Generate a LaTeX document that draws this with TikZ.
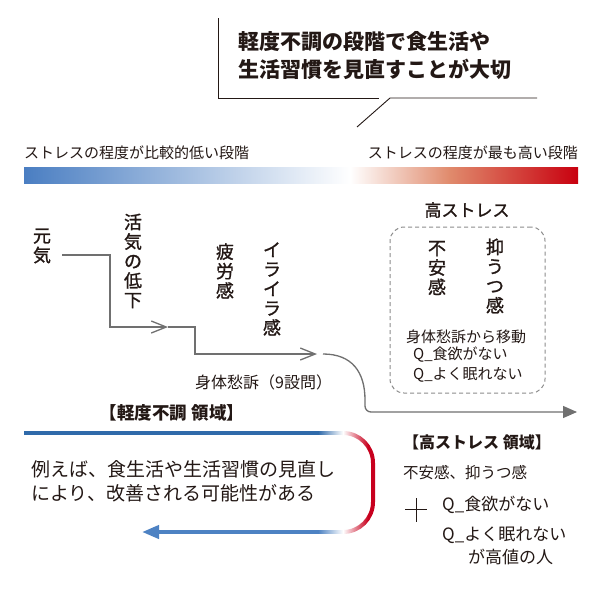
\documentclass[tikz,border=0pt]{standalone}
\usepackage{fontspec}
\setmainfont{Noto Sans CJK JP}
\newfontfamily\medfont{Noto Sans CJK JP}[FakeBold=1.2]
\usetikzlibrary{arrows.meta,fadings}
\definecolor{ink}{HTML}{231815}
\definecolor{flowgray}{HTML}{707070}
\definecolor{dashgray}{HTML}{8C8C8C}
\definecolor{bluetop}{HTML}{2F6AAA}
\definecolor{bluearr}{HTML}{4D82C3}
\definecolor{redline}{HTML}{C8001E}
\definecolor{barblue}{HTML}{4A7EC2}
\definecolor{barmid}{HTML}{E08A6C}
\definecolor{barred}{HTML}{C8000F}
\tikzfading[name=fade mid,left color=transparent!100,right color=transparent!100,middle color=transparent!0]
\newcommand\fsz[1]{\fontsize{#1}{#1}\selectfont}
\begin{document}
\begin{tikzpicture}[x=1pt,y=-1pt,
  every node/.style={text=ink,inner sep=0pt},
  vtext/.style={align=center,font=\medfont\fontsize{18}{19.5}\selectfont},
  flow/.style={draw=flowgray,line width=1.3pt},
  barb/.style={-{Straight Barb[length=15pt,width=12pt,line width=1.3pt]}}]
  \useasboundingbox[fill=white] (0,0) rectangle (600,600);
  % Callout
  \node[anchor=west,align=left,font=\bfseries\fontsize{21}{28}\selectfont] (msg) at (238,56)
    {軽度不調の段階で食生活や\\生活習慣を見直すことが大切};
  \coordinate (ctop) at (218,18);
  \coordinate (cl) at (218,98);
  \coordinate (cgap) at (379,98);
  \coordinate (ctip) at (357,127);
  \coordinate (cbase) at (390,98);
  \coordinate (cr) at (537,98);
  \draw[ink,line width=0.9pt] (ctop) -- (cl) -- (cgap);
  \draw[ink,line width=0.9pt] (ctip) -- (cbase) -- (cr);
  % Stress scale
  \node[anchor=west,font=\fsz{15}] (low) at (24,153) {ストレスの程度が比較的低い段階};
  \node[anchor=east,font=\fsz{15}] (high) at (578,153) {ストレスの程度が最も高い段階};
  \shade[left color=barblue,right color=white] (24,167) rectangle (350,183);
  \shade[left color=white,right color=barmid] (350,167) rectangle (450,183);
  \shade[left color=barmid,right color=barred] (450,167) rectangle (578,183);
  % Flow
  \node[vtext] (genki) at (42,246) {元\\気};
  \node[vtext] (kakki) at (133,261) {活\\気\\の\\低\\下};
  \node[vtext] (hirou) at (225,271) {疲\\労\\感};
  \node[vtext] (iraira) at (272,289) {イ\\ラ\\イ\\ラ\\感};
  \node[anchor=west,font=\fsz{16}] (shintai) at (195,382) {身体愁訴（9設問）};
  \coordinate (s0) at (62,255);
  \coordinate (s1) at (168,327);
  \coordinate (s2) at (317,354);
  \coordinate (s3) at (323,354);
  \coordinate (s4) at (577,412);
  \draw[flow,barb] (s0) -- (110,255) -- (110,327) -- (s1);
  \draw[flow,barb] (s1) -- (195,327) -- (195,354) -- (s2);
  \draw[flow,-{Triangle[length=14pt,width=12pt]}]
    (s3) .. controls (352,354) and (365,372) .. (365,400) [rounded corners=6pt] -- (365,412) -- (s4);
  % High stress box
  \node[font=\medfont\fsz{17}] (hs) at (467,210) {高ストレス};
  \node[draw=dashgray,dashed,line width=1pt,dash pattern=on 4pt off 3pt,rounded corners=14pt,
    minimum width=155,minimum height=166] (hsbox) at (467.5,310) {};
  \node[vtext] (fuan) at (437,268) {不\\安\\感};
  \node[vtext] (yoku) at (495,276) {抑\\う\\つ\\感};
  \node[font=\fsz{15}] (move) at (466,337) {身体愁訴から移動};
  \node[anchor=west,font=\fsz{15}] (q1) at (413,355) {Q\_食欲がない};
  \node[anchor=west,font=\fsz{15}] (q2) at (413,375) {Q\_よく眠れない};
  % Mild area
  \node[font=\bfseries\fsz{17.5}] (mild) at (172,413) {【軽度不調 領域】};
  \coordinate (b0) at (24,433);
  \coordinate (b1) at (343,433);
  \coordinate (b2) at (343,532);
  \coordinate (b3) at (142,532);
  \draw[bluetop,line width=4pt] (b0) -- (b1);
  \draw[redline,line width=4pt,rounded corners=30pt] (b1) -- (373,433) -- (373,532) -- (b2);
  \draw[bluearr,line width=4pt,-{Triangle[length=17pt,width=13pt]}] (b2) -- (b3);
  \fill[white,path fading=fade mid] (318,426) rectangle (368,452);
  \fill[white,path fading=fade mid] (318,513) rectangle (368,539);
  \node[anchor=west,align=left,font=\fontsize{19}{24}\selectfont] (advice) at (31,481)
    {例えば、食生活や生活習慣の見直し\\により、改善される可能性がある};
  % High stress area
  \node[anchor=west,font=\bfseries\fsz{16}] (hsarea) at (403,442) {【高ストレス 領域】};
  \node[anchor=west,font=\fsz{15.5}] (feel) at (403,473) {不安感、抑うつ感};
  \draw[ink,line width=0.8pt] (405,509) -- (427,509) (416,498) -- (416,522);
  \node[anchor=west,font=\fsz{17}] (q3) at (442,505) {Q\_食欲がない};
  \node[anchor=west,font=\fsz{17}] (q4) at (442,535) {Q\_よく眠れない};
  \node[anchor=west,font=\fsz{17}] (q5) at (468,557) {が高値の人};
\end{tikzpicture}
\end{document}
